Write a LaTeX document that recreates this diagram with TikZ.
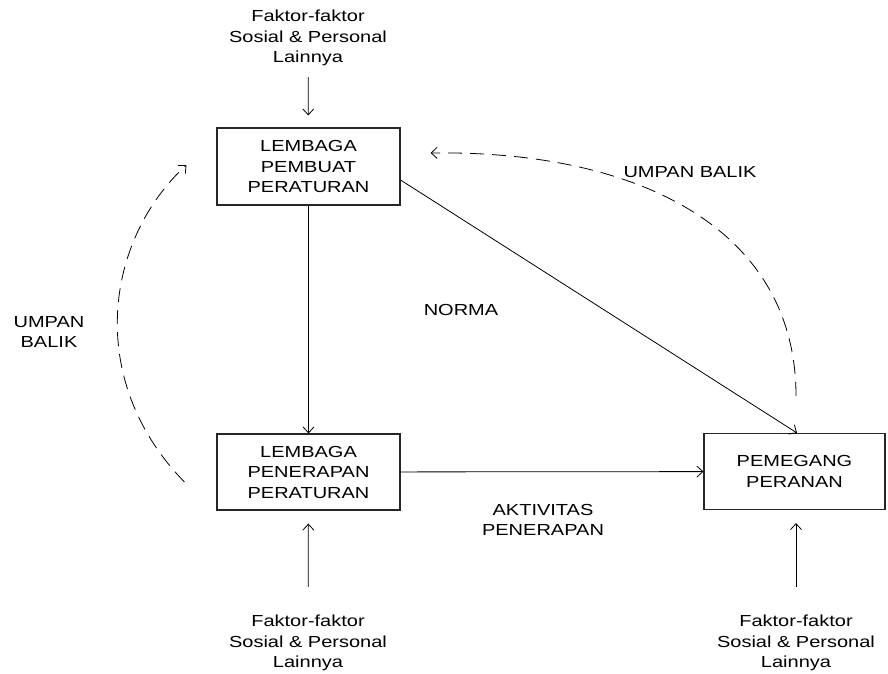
\documentclass[tikz,border=0pt]{standalone}
\usepackage{fontspec}
\setmainfont{Liberation Sans}[FakeStretch=1.25]
\usetikzlibrary{arrows.meta}
\begin{document}
\begin{tikzpicture}[x=1pt,y=-1pt,
  txt/.style={align=center,inner sep=0pt,font=\fontsize{16}{20.5}\selectfont},
  box/.style={draw=black!85,line width=1.1pt,align=center,inner sep=0pt,
              font=\fontsize{16}{20.5}\selectfont},
  arr/.style={draw=black,line width=0.8pt,-{Straight Barb[length=6pt,width=11pt]}},
  fb/.style={arr,dash pattern=on 14pt off 8pt}]
\useasboundingbox[fill=white] (0,0) rectangle (888,673);

% boxes
\node[box,minimum width=183pt,minimum height=77pt] (lpp) at (308.5,166.5) {LEMBAGA\\PEMBUAT\\PERATURAN};
\node[box,minimum width=183pt,minimum height=76pt] (lpr) at (308.5,472) {LEMBAGA\\PENERAPAN\\PERATURAN};
\node[box,minimum width=181pt,minimum height=76pt] (pem) at (794.5,471.5) {PEMEGANG\\PERANAN};

% factor texts
\node[txt] (fT) at (308,38) {Faktor-faktor\\Sosial \& Personal\\Lainnya};
\node[txt] (fL) at (308,643) {Faktor-faktor\\Sosial \& Personal\\Lainnya};
\node[txt] (fR) at (796,643) {Faktor-faktor\\Sosial \& Personal\\Lainnya};

% labels
\node[txt] (norma) at (461,310) {NORMA};
\node[txt] (ubTop) at (690,172) {UMPAN BALIK};
\node[txt] (ubLeft) at (49,332) {UMPAN\\BALIK};
\node[txt] (akt) at (543,520) {AKTIVITAS\\PENERAPAN};

% connectors
\draw[arr,shorten <=11pt,shorten >=12pt] (fT) -- (lpp);
\draw[arr,shorten <=28pt,shorten >=13pt] (fL) -- (lpr);
\draw[arr,shorten <=28pt,shorten >=13pt] (fR) -- (fR |- pem.south);
\draw[arr] (lpp) -- (lpr);
\draw[arr] (lpr) -- (pem);
\draw[arr] ([yshift=-13.5pt]lpp.east) -- ([xshift=2.5pt]pem.north);

% feedback loops
\draw[fb] ([xshift=1.5pt,yshift=37pt]pem.north) .. controls (796,230) and (640,150) .. ([xshift=30pt,yshift=13.5pt]lpp.east);
\draw[fb] ([xshift=-32pt,yshift=-10pt]lpr.west) .. controls (85,380) and (105,240) .. ([xshift=-30pt,yshift=1.5pt]lpp.west);
\end{tikzpicture}
\end{document}
